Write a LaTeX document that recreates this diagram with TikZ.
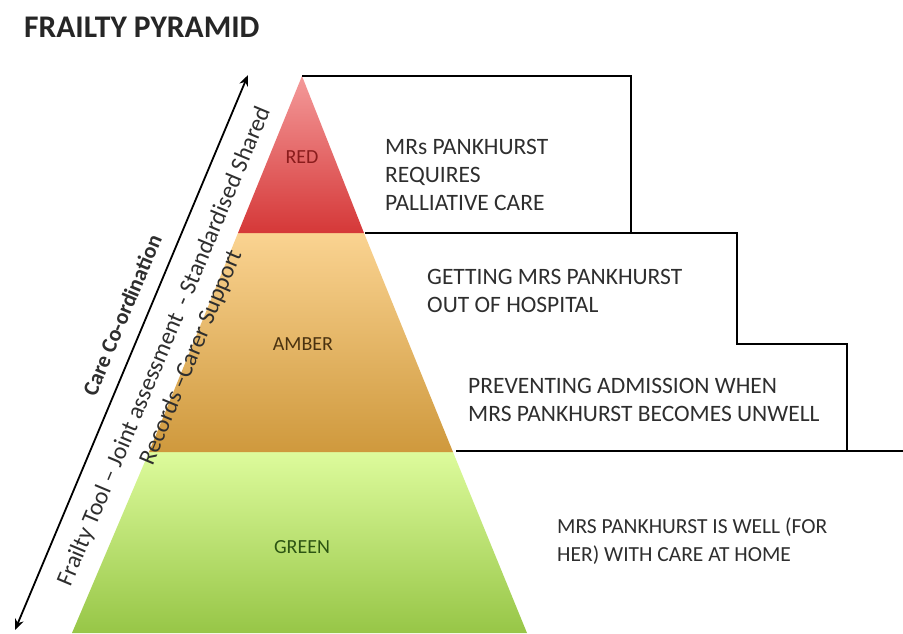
\documentclass[tikz,border=0pt]{standalone}
\usepackage{fontspec}
\setmainfont{Carlito}
\usetikzlibrary{arrows.meta}

\definecolor{inktext}{HTML}{2E2E2E}
\definecolor{redtop}{HTML}{F49A9A}
\definecolor{redbot}{HTML}{D53838}
\definecolor{ambertop}{HTML}{FAD391}
\definecolor{amberbot}{HTML}{CF993D}
\definecolor{greentop}{HTML}{DDFB9C}
\definecolor{greenbot}{HTML}{97C647}
\definecolor{redlabel}{HTML}{8A1C1C}
\definecolor{amberlabel}{HTML}{4A3210}
\definecolor{greenlabel}{HTML}{2C5512}

\tikzset{
  stairline/.style={line width=2.4pt, black, line join=miter},
  bodytext/.style={anchor=west, align=left, inner sep=0pt, text=inktext,
    font=\fontsize{23.5}{28}\selectfont},
  tierlabel/.style={inner sep=0pt, font=\fontsize{20}{22}\selectfont},
  axislabel/.style={inner sep=0pt, rotate=67.23, text=inktext, align=center},
}

\begin{document}
\begin{tikzpicture}[x=1pt, y=-1pt]
  \useasboundingbox (0,0) rectangle (903,633);

  % pyramid tiers
  \shade[top color=greentop, bottom color=greenbot]
    (149,452) -- (453,452) -- (527,633) -- (72,633) -- cycle;
  \shade[top color=ambertop, bottom color=amberbot]
    (238,233) -- (364,233) -- (453,452) -- (149,452) -- cycle;
  \shade[top color=redtop, bottom color=redbot]
    (302,76) -- (364,233) -- (238,233) -- cycle;

  \node[tierlabel, text=redlabel]   (red)   at (302,157) {RED};
  \node[tierlabel, text=amberlabel] (amber) at (303,344) {AMBER};
  \node[tierlabel, text=greenlabel] (green) at (302,547) {GREEN};

  % stepped outline on the right
  \draw[stairline] (302,76) -- (631,76) -- (631,233);
  \draw[stairline] (365,233) -- (737,233) -- (737,344) -- (847,344) -- (847,451);
  \draw[stairline] (456,451) -- (903,451);

  % step descriptions
  \node[bodytext] (palliative) at (385,175)
    {MRs PANKHURST\\REQUIRES\\PALLIATIVE CARE};
  \node[bodytext] (hospital) at (427,291)
    {GETTING MRS PANKHURST\\OUT OF HOSPITAL};
  \node[bodytext] (admission) at (468,400)
    {PREVENTING ADMISSION WHEN\\MRS PANKHURST BECOMES UNWELL};
  \node[bodytext, font=\fontsize{21.5}{28}\selectfont] (home) at (557,541)
    {MRS PANKHURST IS WELL (FOR\\HER) WITH CARE AT HOME};

  % title
  \node[anchor=west, inner sep=0pt, text=black!85,
        font=\fontsize{31.5}{34}\bfseries\selectfont] (title) at (24,27)
    {FRAILTY PYRAMID};

  % care co-ordination axis
  \coordinate (axislow) at (15,630);
  \coordinate (axishigh) at (248,75);
  \draw[line width=1.8pt, {Stealth[length=11pt,width=9pt]}-{Stealth[length=11pt,width=9pt]}]
    (axislow) -- (axishigh);

  \node[axislabel, font=\fontsize{22}{24}\bfseries\selectfont] (coord) at (122,315)
    {Care Co-ordination};
  \node[axislabel, font=\fontsize{24}{29}\selectfont] (tools) at (178,352)
    {Frailty Tool -- Joint assessment\ \ - Standardised Shared\\Records --Carer Support};
\end{tikzpicture}
\end{document}
